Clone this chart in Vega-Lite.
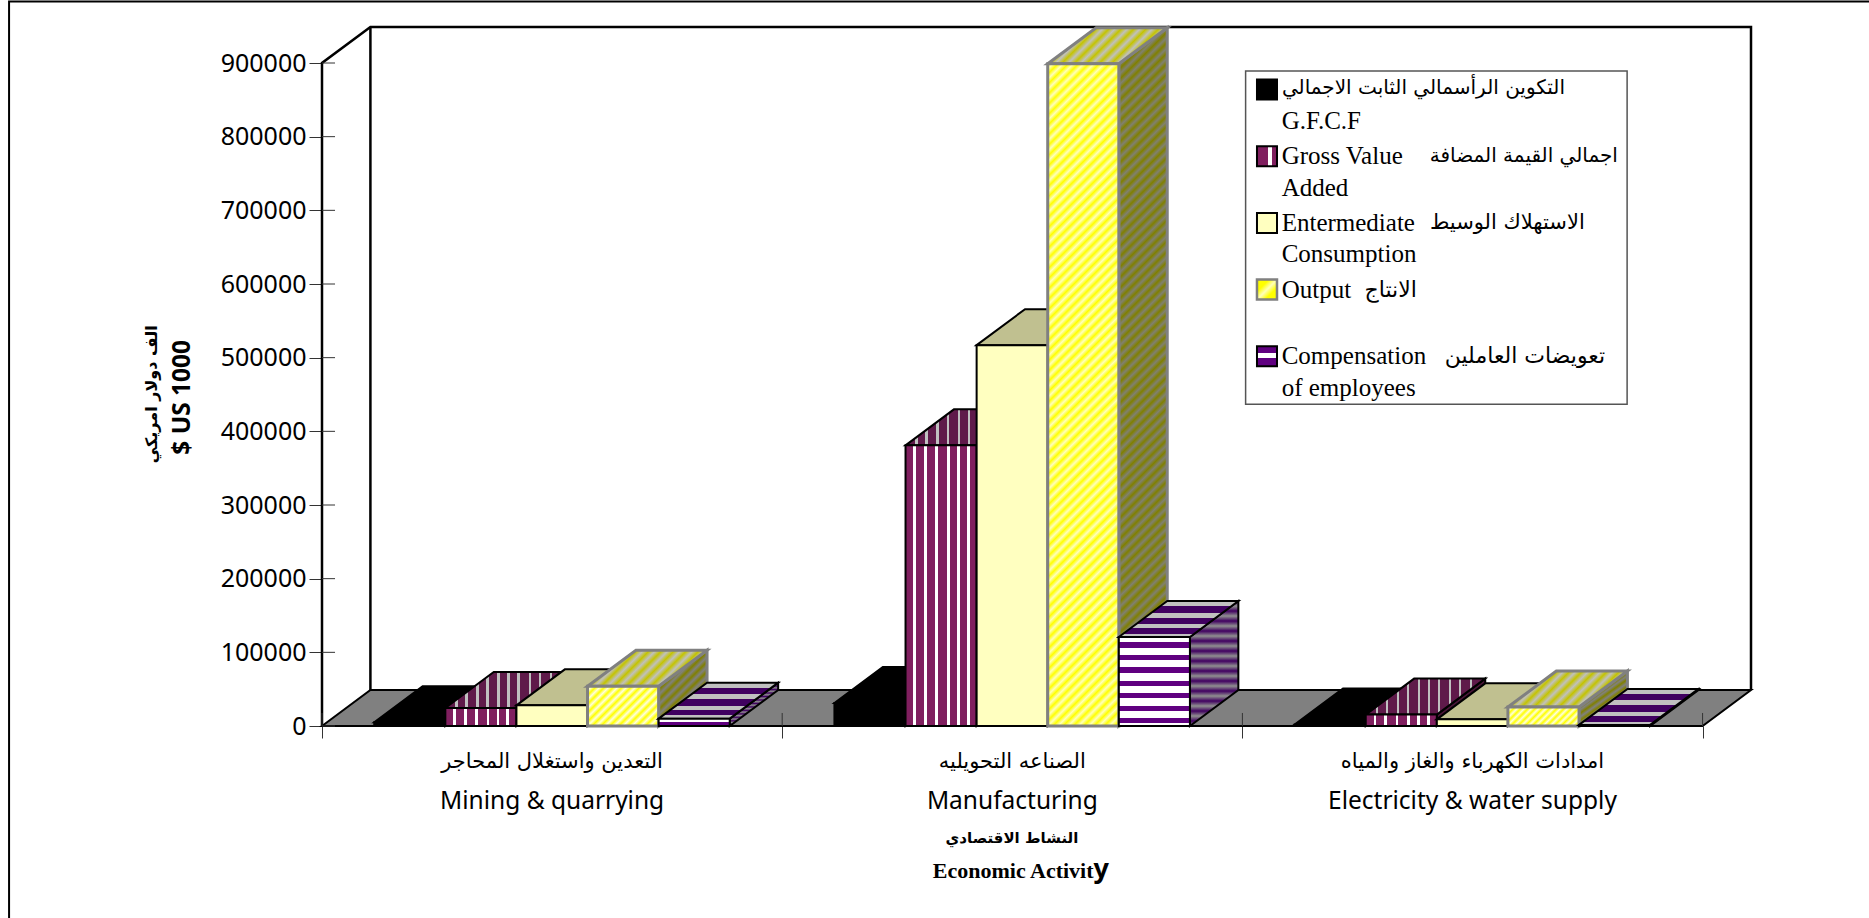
{"$schema":"https://vega.github.io/schema/vega-lite/v6.json","width":1429,"height":699,"padding":{"left":322,"top":27,"right":118,"bottom":192},"autosize":{"type":"none"},"background":"white","config":{"view":{"stroke":null}},
"data":{"values":[{"singleton":1}]},
"datasets":{"bars":[
{"activity":"Mining & quarrying","series":"G.F.C.F","value":5000},{"activity":"Mining & quarrying","series":"Gross Value Added","value":24400},{"activity":"Mining & quarrying","series":"Entermediate Consumption","value":28000},{"activity":"Mining & quarrying","series":"Output","value":53900},{"activity":"Mining & quarrying","series":"Compensation of employees","value":10000},
{"activity":"Manufacturing","series":"G.F.C.F","value":31200},{"activity":"Manufacturing","series":"Gross Value Added","value":381000},{"activity":"Manufacturing","series":"Entermediate Consumption","value":517000},{"activity":"Manufacturing","series":"Output","value":899000},{"activity":"Manufacturing","series":"Compensation of employees","value":120800},
{"activity":"Electricity & water supply","series":"G.F.C.F","value":2000},{"activity":"Electricity & water supply","series":"Gross Value Added","value":15500},{"activity":"Electricity & water supply","series":"Entermediate Consumption","value":9000},{"activity":"Electricity & water supply","series":"Output","value":25800},{"activity":"Electricity & water supply","series":"Compensation of employees","value":1500}],
"floor":[{"x":0,"lo":0,"hi":0},{"x":0.1052,"lo":0,"hi":48870},{"x":3,"lo":0,"hi":48870},{"x":3.1052,"lo":48870,"hi":48870}],
"wall":[{"o":1,"x":0,"y":0},{"o":2,"x":0,"y":900000},{"o":3,"x":0.1052,"y":948870},{"o":4,"x":3.1052,"y":948870},{"o":5,"x":3.1052,"y":48870}],
"labels":[{"activity":"Mining & quarrying","arabic":"التعدين واستغلال المحاجر"},{"activity":"Manufacturing","arabic":"الصناعه التحويليه"},{"activity":"Electricity & water supply","arabic":"امدادات الكهرباء والغاز والمياه"}]},
"layer":[
{"mark":{"type":"rect","fill":null,"stroke":"#000","strokeWidth":2},"encoding":{"x":{"datum":-0.68},"x2":{"datum":3.4},"y":{"datum":983500},"y2":{"datum":-270000}}},
{"data":{"name":"floor"},"mark":{"type":"area","fill":"#808080","stroke":"#000","strokeWidth":2},"encoding":{"x":{"field":"x","type":"quantitative","scale":{"domain":[0,3.1052],"nice":false,"zero":false},"axis":{"values":[0,1,2,3],"labels":false,"title":null,"tickSize":12,"tickColor":"#333","domain":false,"grid":false}},"y":{"field":"hi","type":"quantitative","scale":{"domain":[0,948870],"nice":false},"axis":{"values":[0,100000,200000,300000,400000,500000,600000,700000,800000,900000],"format":"d","title":null,"tickSize":13,"tickColor":"#333","domain":false,"labelFont":"Noto Sans","labelFontSize":25,"labelColor":"#000","labelPadding":3,"grid":false,"labelOverlap":false}},"y2":{"field":"lo"}}},
{"data":{"name":"wall"},"mark":{"type":"line","stroke":"#000","strokeWidth":2.5},"encoding":{"x":{"field":"x","type":"quantitative"},"y":{"field":"y","type":"quantitative"},"order":{"field":"o"}}},
{"mark":{"type":"rule","stroke":"#000","strokeWidth":2.5},"encoding":{"x":{"datum":0.1052},"y":{"datum":48870},"y2":{"datum":948870}}},
{"data":{"values":[{"v":0},{"v":100000},{"v":200000},{"v":300000},{"v":400000},{"v":500000},{"v":600000},{"v":700000},{"v":800000},{"v":900000}]},"mark":{"type":"rule","stroke":"#333","strokeWidth":1},"encoding":{"x":{"datum":0},"x2":{"datum":0.0283},"y":{"field":"v","type":"quantitative"}}},
{"data":{"values":[{"t":0},{"t":1},{"t":2},{"t":3}]},"mark":{"type":"rule","stroke":"#333","strokeWidth":1},"encoding":{"x":{"field":"t","type":"quantitative"},"y":{"datum":0},"y2":{"datum":17650}}},
{"data":{"name":"bars"},"transform":[
{"calculate":"indexof(['Mining & quarrying','Manufacturing','Electricity & water supply'],datum.activity)+0.1135+indexof(['G.F.C.F','Gross Value Added','Entermediate Consumption','Output','Compensation of employees'],datum.series)*0.1545","as":"x0"},
{"calculate":"datum.x0+0.1545","as":"x1"},
{"calculate":"[{f:'side',px:datum.x1,lo:0,hi:datum.value},{f:'side',px:datum.x1+0.1052,lo:48870,hi:datum.value+48870},{f:'top',px:datum.x0,lo:datum.value,hi:datum.value},{f:'top',px:datum.x0+0.1052,lo:datum.value,hi:datum.value+48870},{f:'top',px:datum.x1,lo:datum.value,hi:datum.value+48870},{f:'top',px:datum.x1+0.1052,lo:datum.value+48870,hi:datum.value+48870},{f:'front',px:datum.x0,lo:0,hi:datum.value}]","as":"g"},
{"flatten":["g"]},
{"calculate":"datum.g.f","as":"face"},{"calculate":"datum.g.px","as":"px"},{"calculate":"datum.g.lo","as":"lo"},{"calculate":"datum.g.hi","as":"hi"}],
"layer":[
{"transform":[{"filter":"datum.series=='G.F.C.F'&&datum.face!='front'"}],"mark":{"type":"area","fill":"#000","stroke":"#000","strokeWidth":2},"encoding":{"x":{"field":"px","type":"quantitative"},"y":{"field":"hi","type":"quantitative"},"y2":{"field":"lo"},"detail":[{"field":"activity"},{"field":"face"}]}},
{"transform":[{"filter":"datum.series=='G.F.C.F'&&datum.face=='front'"}],"mark":{"type":"rect","fill":"#000","stroke":"#000","strokeWidth":2},"encoding":{"x":{"field":"px","type":"quantitative"},"x2":{"field":"x1"},"y":{"field":"hi","type":"quantitative"},"y2":{"field":"lo"}}},

{"transform":[{"filter":"datum.series=='Gross Value Added'&&datum.face=='side'"}],"mark":{"type":"area","fill":"#4a1538","stroke":"#000","strokeWidth":2},"encoding":{"x":{"field":"px","type":"quantitative"},"y":{"field":"hi","type":"quantitative"},"y2":{"field":"lo"},"detail":{"field":"activity"}}},
{"transform":[{"filter":"datum.series=='Gross Value Added'&&datum.face=='top'"}],"mark":{"type":"area","stroke":"#000","strokeWidth":2,"fill":{"gradient":"linear","x1":0,"y1":0,"x2":1,"y2":0,"stops":[{"offset":0.082,"color":"#5f1a4a"},{"offset":0.082,"color":"#c0c0c0"},{"offset":0.102,"color":"#c0c0c0"},{"offset":0.102,"color":"#5f1a4a"},{"offset":0.166,"color":"#5f1a4a"},{"offset":0.166,"color":"#c0c0c0"},{"offset":0.186,"color":"#c0c0c0"},{"offset":0.186,"color":"#5f1a4a"},{"offset":0.259,"color":"#5f1a4a"},{"offset":0.259,"color":"#c0c0c0"},{"offset":0.279,"color":"#c0c0c0"},{"offset":0.279,"color":"#5f1a4a"},{"offset":0.343,"color":"#5f1a4a"},{"offset":0.343,"color":"#c0c0c0"},{"offset":0.363,"color":"#c0c0c0"},{"offset":0.363,"color":"#5f1a4a"},{"offset":0.435,"color":"#5f1a4a"},{"offset":0.435,"color":"#c0c0c0"},{"offset":0.455,"color":"#c0c0c0"},{"offset":0.455,"color":"#5f1a4a"},{"offset":0.519,"color":"#5f1a4a"},{"offset":0.519,"color":"#c0c0c0"},{"offset":0.539,"color":"#c0c0c0"},{"offset":0.539,"color":"#5f1a4a"},{"offset":0.603,"color":"#5f1a4a"},{"offset":0.603,"color":"#c0c0c0"},{"offset":0.623,"color":"#c0c0c0"},{"offset":0.623,"color":"#5f1a4a"},{"offset":0.696,"color":"#5f1a4a"},{"offset":0.696,"color":"#c0c0c0"},{"offset":0.716,"color":"#c0c0c0"},{"offset":0.716,"color":"#5f1a4a"},{"offset":0.78,"color":"#5f1a4a"},{"offset":0.78,"color":"#c0c0c0"},{"offset":0.8,"color":"#c0c0c0"},{"offset":0.8,"color":"#5f1a4a"},{"offset":0.872,"color":"#5f1a4a"},{"offset":0.872,"color":"#c0c0c0"},{"offset":0.892,"color":"#c0c0c0"},{"offset":0.892,"color":"#5f1a4a"}]}},"encoding":{"x":{"field":"px","type":"quantitative"},"y":{"field":"hi","type":"quantitative"},"y2":{"field":"lo"},"detail":{"field":"activity"}}},
{"transform":[{"filter":"datum.series=='Gross Value Added'&&datum.face=='front'"}],"mark":{"type":"rect","stroke":"#000","strokeWidth":2,"fill":{"gradient":"linear","x1":0,"y1":0,"x2":1,"y2":0,"stops":[{"offset":0.11,"color":"#801f5f"},{"offset":0.11,"color":"#fff"},{"offset":0.15,"color":"#fff"},{"offset":0.15,"color":"#801f5f"},{"offset":0.26,"color":"#801f5f"},{"offset":0.26,"color":"#fff"},{"offset":0.3,"color":"#fff"},{"offset":0.3,"color":"#801f5f"},{"offset":0.42,"color":"#801f5f"},{"offset":0.42,"color":"#fff"},{"offset":0.46,"color":"#fff"},{"offset":0.46,"color":"#801f5f"},{"offset":0.58,"color":"#801f5f"},{"offset":0.58,"color":"#fff"},{"offset":0.62,"color":"#fff"},{"offset":0.62,"color":"#801f5f"},{"offset":0.72,"color":"#801f5f"},{"offset":0.72,"color":"#fff"},{"offset":0.76,"color":"#fff"},{"offset":0.76,"color":"#801f5f"},{"offset":0.86,"color":"#801f5f"},{"offset":0.86,"color":"#fff"},{"offset":0.9,"color":"#fff"},{"offset":0.9,"color":"#801f5f"}]}},"encoding":{"x":{"field":"px","type":"quantitative"},"x2":{"field":"x1"},"y":{"field":"hi","type":"quantitative"},"y2":{"field":"lo"}}},

{"transform":[{"filter":"datum.series=='Entermediate Consumption'&&datum.face=='side'"}],"mark":{"type":"area","fill":"#808060","stroke":"#000","strokeWidth":2},"encoding":{"x":{"field":"px","type":"quantitative"},"y":{"field":"hi","type":"quantitative"},"y2":{"field":"lo"},"detail":{"field":"activity"}}},
{"transform":[{"filter":"datum.series=='Entermediate Consumption'&&datum.face=='top'"}],"mark":{"type":"area","fill":"#c0c090","stroke":"#000","strokeWidth":2},"encoding":{"x":{"field":"px","type":"quantitative"},"y":{"field":"hi","type":"quantitative"},"y2":{"field":"lo"},"detail":{"field":"activity"}}},
{"transform":[{"filter":"datum.series=='Entermediate Consumption'&&datum.face=='front'"}],"mark":{"type":"rect","fill":"#ffffc0","stroke":"#000","strokeWidth":2},"encoding":{"x":{"field":"px","type":"quantitative"},"x2":{"field":"x1"},"y":{"field":"hi","type":"quantitative"},"y2":{"field":"lo"}}},

{"transform":[{"filter":"datum.series=='Output'&&datum.face=='side'&&datum.activity!='Manufacturing'"}],"mark":{"type":"area","stroke":"#808080","strokeWidth":3,"fill":{"gradient":"linear","x1":0,"y1":0,"x2":0.737,"y2":1.166,"stops":[{"offset":0,"color":"#808000"},{"offset":0.04,"color":"#808080"},{"offset":0.08,"color":"#808000"},{"offset":0.12,"color":"#808080"},{"offset":0.16,"color":"#808000"},{"offset":0.2,"color":"#808080"},{"offset":0.24,"color":"#808000"},{"offset":0.28,"color":"#808080"},{"offset":0.32,"color":"#808000"},{"offset":0.36,"color":"#808080"},{"offset":0.4,"color":"#808000"},{"offset":0.44,"color":"#808080"},{"offset":0.48,"color":"#808000"},{"offset":0.52,"color":"#808080"},{"offset":0.56,"color":"#808000"},{"offset":0.6,"color":"#808080"},{"offset":0.64,"color":"#808000"},{"offset":0.68,"color":"#808080"},{"offset":0.72,"color":"#808000"},{"offset":0.76,"color":"#808080"},{"offset":0.8,"color":"#808000"},{"offset":0.84,"color":"#808080"},{"offset":0.88,"color":"#808000"},{"offset":0.92,"color":"#808080"},{"offset":0.96,"color":"#808000"},{"offset":1,"color":"#808080"}]}},"encoding":{"x":{"field":"px","type":"quantitative"},"y":{"field":"hi","type":"quantitative"},"y2":{"field":"lo"},"detail":{"field":"activity"}}},
{"transform":[{"filter":"datum.series=='Output'&&datum.face=='side'&&datum.activity=='Manufacturing'"}],"mark":{"type":"area","stroke":"#808080","strokeWidth":3,"fill":{"gradient":"linear","x1":0,"y1":0,"x2":0.0732,"y2":1.0637,"stops":[{"offset":0,"color":"#808000"},{"offset":0.007,"color":"#808070"},{"offset":0.014,"color":"#808000"},{"offset":0.021,"color":"#808070"},{"offset":0.028,"color":"#808000"},{"offset":0.035,"color":"#808070"},{"offset":0.042,"color":"#808000"},{"offset":0.049,"color":"#808070"},{"offset":0.056,"color":"#808000"},{"offset":0.063,"color":"#808070"},{"offset":0.07,"color":"#808000"},{"offset":0.077,"color":"#808070"},{"offset":0.084,"color":"#808000"},{"offset":0.091,"color":"#808070"},{"offset":0.098,"color":"#808000"},{"offset":0.105,"color":"#808070"},{"offset":0.112,"color":"#808000"},{"offset":0.119,"color":"#808070"},{"offset":0.126,"color":"#808000"},{"offset":0.133,"color":"#808070"},{"offset":0.14,"color":"#808000"},{"offset":0.147,"color":"#808070"},{"offset":0.154,"color":"#808000"},{"offset":0.161,"color":"#808070"},{"offset":0.168,"color":"#808000"},{"offset":0.175,"color":"#808070"},{"offset":0.182,"color":"#808000"},{"offset":0.189,"color":"#808070"},{"offset":0.196,"color":"#808000"},{"offset":0.203,"color":"#808070"},{"offset":0.21,"color":"#808000"},{"offset":0.217,"color":"#808070"},{"offset":0.224,"color":"#808000"},{"offset":0.231,"color":"#808070"},{"offset":0.238,"color":"#808000"},{"offset":0.245,"color":"#808070"},{"offset":0.252,"color":"#808000"},{"offset":0.259,"color":"#808070"},{"offset":0.266,"color":"#808000"},{"offset":0.273,"color":"#808070"},{"offset":0.28,"color":"#808000"},{"offset":0.287,"color":"#808070"},{"offset":0.294,"color":"#808000"},{"offset":0.301,"color":"#808070"},{"offset":0.308,"color":"#808000"},{"offset":0.315,"color":"#808070"},{"offset":0.322,"color":"#808000"},{"offset":0.329,"color":"#808070"},{"offset":0.336,"color":"#808000"},{"offset":0.343,"color":"#808070"},{"offset":0.35,"color":"#808000"},{"offset":0.357,"color":"#808070"},{"offset":0.364,"color":"#808000"},{"offset":0.371,"color":"#808070"},{"offset":0.378,"color":"#808000"},{"offset":0.385,"color":"#808070"},{"offset":0.392,"color":"#808000"},{"offset":0.399,"color":"#808070"},{"offset":0.406,"color":"#808000"},{"offset":0.413,"color":"#808070"},{"offset":0.42,"color":"#808000"},{"offset":0.427,"color":"#808070"},{"offset":0.434,"color":"#808000"},{"offset":0.441,"color":"#808070"},{"offset":0.448,"color":"#808000"},{"offset":0.455,"color":"#808070"},{"offset":0.462,"color":"#808000"},{"offset":0.469,"color":"#808070"},{"offset":0.476,"color":"#808000"},{"offset":0.483,"color":"#808070"},{"offset":0.49,"color":"#808000"},{"offset":0.497,"color":"#808070"},{"offset":0.504,"color":"#808000"},{"offset":0.511,"color":"#808070"},{"offset":0.518,"color":"#808000"},{"offset":0.525,"color":"#808070"},{"offset":0.532,"color":"#808000"},{"offset":0.539,"color":"#808070"},{"offset":0.546,"color":"#808000"},{"offset":0.553,"color":"#808070"},{"offset":0.56,"color":"#808000"},{"offset":0.567,"color":"#808070"},{"offset":0.574,"color":"#808000"},{"offset":0.581,"color":"#808070"},{"offset":0.588,"color":"#808000"},{"offset":0.595,"color":"#808070"},{"offset":0.602,"color":"#808000"},{"offset":0.609,"color":"#808070"},{"offset":0.616,"color":"#808000"},{"offset":0.623,"color":"#808070"},{"offset":0.63,"color":"#808000"},{"offset":0.637,"color":"#808070"},{"offset":0.644,"color":"#808000"},{"offset":0.651,"color":"#808070"},{"offset":0.658,"color":"#808000"},{"offset":0.665,"color":"#808070"},{"offset":0.672,"color":"#808000"},{"offset":0.679,"color":"#808070"},{"offset":0.686,"color":"#808000"},{"offset":0.693,"color":"#808070"},{"offset":0.7,"color":"#808000"},{"offset":0.707,"color":"#808070"},{"offset":0.714,"color":"#808000"},{"offset":0.721,"color":"#808070"},{"offset":0.728,"color":"#808000"},{"offset":0.735,"color":"#808070"},{"offset":0.742,"color":"#808000"},{"offset":0.749,"color":"#808070"},{"offset":0.756,"color":"#808000"},{"offset":0.763,"color":"#808070"},{"offset":0.77,"color":"#808000"},{"offset":0.777,"color":"#808070"},{"offset":0.784,"color":"#808000"},{"offset":0.791,"color":"#808070"},{"offset":0.798,"color":"#808000"},{"offset":0.805,"color":"#808070"},{"offset":0.812,"color":"#808000"},{"offset":0.819,"color":"#808070"},{"offset":0.826,"color":"#808000"},{"offset":0.833,"color":"#808070"},{"offset":0.84,"color":"#808000"},{"offset":0.847,"color":"#808070"},{"offset":0.854,"color":"#808000"},{"offset":0.861,"color":"#808070"},{"offset":0.868,"color":"#808000"},{"offset":0.875,"color":"#808070"},{"offset":0.882,"color":"#808000"},{"offset":0.889,"color":"#808070"},{"offset":0.896,"color":"#808000"},{"offset":0.903,"color":"#808070"},{"offset":0.91,"color":"#808000"},{"offset":0.917,"color":"#808070"},{"offset":0.924,"color":"#808000"},{"offset":0.931,"color":"#808070"},{"offset":0.938,"color":"#808000"},{"offset":0.945,"color":"#808070"},{"offset":0.952,"color":"#808000"},{"offset":0.959,"color":"#808070"},{"offset":0.966,"color":"#808000"},{"offset":0.973,"color":"#808070"},{"offset":0.98,"color":"#808000"},{"offset":0.987,"color":"#808070"},{"offset":0.994,"color":"#808000"}]}},"encoding":{"x":{"field":"px","type":"quantitative"},"y":{"field":"hi","type":"quantitative"},"y2":{"field":"lo"},"detail":{"field":"activity"}}},
{"transform":[{"filter":"datum.series=='Output'&&datum.face=='top'"}],"mark":{"type":"area","stroke":"#808080","strokeWidth":3,"fill":{"gradient":"linear","x1":0,"y1":0,"x2":1.193,"y2":0.36,"stops":[{"offset":0,"color":"#c4c400"},{"offset":0.04,"color":"#c0c0c0"},{"offset":0.08,"color":"#c4c400"},{"offset":0.12,"color":"#c0c0c0"},{"offset":0.16,"color":"#c4c400"},{"offset":0.2,"color":"#c0c0c0"},{"offset":0.24,"color":"#c4c400"},{"offset":0.28,"color":"#c0c0c0"},{"offset":0.32,"color":"#c4c400"},{"offset":0.36,"color":"#c0c0c0"},{"offset":0.4,"color":"#c4c400"},{"offset":0.44,"color":"#c0c0c0"},{"offset":0.48,"color":"#c4c400"},{"offset":0.52,"color":"#c0c0c0"},{"offset":0.56,"color":"#c4c400"},{"offset":0.6,"color":"#c0c0c0"},{"offset":0.64,"color":"#c4c400"},{"offset":0.68,"color":"#c0c0c0"},{"offset":0.72,"color":"#c4c400"},{"offset":0.76,"color":"#c0c0c0"},{"offset":0.8,"color":"#c4c400"},{"offset":0.84,"color":"#c0c0c0"},{"offset":0.88,"color":"#c4c400"},{"offset":0.92,"color":"#c0c0c0"},{"offset":0.96,"color":"#c4c400"},{"offset":1,"color":"#c0c0c0"}]}},"encoding":{"x":{"field":"px","type":"quantitative"},"y":{"field":"hi","type":"quantitative"},"y2":{"field":"lo"},"detail":{"field":"activity"}}},
{"transform":[{"filter":"datum.series=='Output'&&datum.face=='front'&&datum.activity=='Mining & quarrying'"}],"mark":{"type":"rect","stroke":"#808080","strokeWidth":3,"fill":{"gradient":"linear","x1":0,"y1":0,"x2":1.187,"y2":0.669,"stops":[{"offset":0,"color":"#ff0"},{"offset":0.04,"color":"#ffd"},{"offset":0.08,"color":"#ff0"},{"offset":0.12,"color":"#ffd"},{"offset":0.16,"color":"#ff0"},{"offset":0.2,"color":"#ffd"},{"offset":0.24,"color":"#ff0"},{"offset":0.28,"color":"#ffd"},{"offset":0.32,"color":"#ff0"},{"offset":0.36,"color":"#ffd"},{"offset":0.4,"color":"#ff0"},{"offset":0.44,"color":"#ffd"},{"offset":0.48,"color":"#ff0"},{"offset":0.52,"color":"#ffd"},{"offset":0.56,"color":"#ff0"},{"offset":0.6,"color":"#ffd"},{"offset":0.64,"color":"#ff0"},{"offset":0.68,"color":"#ffd"},{"offset":0.72,"color":"#ff0"},{"offset":0.76,"color":"#ffd"},{"offset":0.8,"color":"#ff0"},{"offset":0.84,"color":"#ffd"},{"offset":0.88,"color":"#ff0"},{"offset":0.92,"color":"#ffd"},{"offset":0.96,"color":"#ff0"},{"offset":1,"color":"#ffd"}]}},"encoding":{"x":{"field":"px","type":"quantitative"},"x2":{"field":"x1"},"y":{"field":"hi","type":"quantitative"},"y2":{"field":"lo"}}},
{"transform":[{"filter":"datum.series=='Output'&&datum.face=='front'&&datum.activity=='Electricity & water supply'"}],"mark":{"type":"rect","stroke":"#808080","strokeWidth":3,"fill":{"gradient":"linear","x1":0,"y1":0,"x2":1.183,"y2":0.3166,"stops":[{"offset":0,"color":"#ff0"},{"offset":0.04,"color":"#ffd"},{"offset":0.08,"color":"#ff0"},{"offset":0.12,"color":"#ffd"},{"offset":0.16,"color":"#ff0"},{"offset":0.2,"color":"#ffd"},{"offset":0.24,"color":"#ff0"},{"offset":0.28,"color":"#ffd"},{"offset":0.32,"color":"#ff0"},{"offset":0.36,"color":"#ffd"},{"offset":0.4,"color":"#ff0"},{"offset":0.44,"color":"#ffd"},{"offset":0.48,"color":"#ff0"},{"offset":0.52,"color":"#ffd"},{"offset":0.56,"color":"#ff0"},{"offset":0.6,"color":"#ffd"},{"offset":0.64,"color":"#ff0"},{"offset":0.68,"color":"#ffd"},{"offset":0.72,"color":"#ff0"},{"offset":0.76,"color":"#ffd"},{"offset":0.8,"color":"#ff0"},{"offset":0.84,"color":"#ffd"},{"offset":0.88,"color":"#ff0"},{"offset":0.92,"color":"#ffd"},{"offset":0.96,"color":"#ff0"},{"offset":1,"color":"#ffd"}]}},"encoding":{"x":{"field":"px","type":"quantitative"},"x2":{"field":"x1"},"y":{"field":"hi","type":"quantitative"},"y2":{"field":"lo"}}},
{"transform":[{"filter":"datum.series=='Output'&&datum.face=='front'&&datum.activity=='Manufacturing'"}],"mark":{"type":"rect","stroke":"#808080","strokeWidth":3,"fill":{"gradient":"linear","x1":0,"y1":0,"x2":0.1174,"y2":1.0947,"stops":[{"offset":0,"color":"#ff0"},{"offset":0.007,"color":"#ffb"},{"offset":0.014,"color":"#ff0"},{"offset":0.021,"color":"#ffb"},{"offset":0.028,"color":"#ff0"},{"offset":0.035,"color":"#ffb"},{"offset":0.042,"color":"#ff0"},{"offset":0.049,"color":"#ffb"},{"offset":0.056,"color":"#ff0"},{"offset":0.063,"color":"#ffb"},{"offset":0.07,"color":"#ff0"},{"offset":0.077,"color":"#ffb"},{"offset":0.084,"color":"#ff0"},{"offset":0.091,"color":"#ffb"},{"offset":0.098,"color":"#ff0"},{"offset":0.105,"color":"#ffb"},{"offset":0.112,"color":"#ff0"},{"offset":0.119,"color":"#ffb"},{"offset":0.126,"color":"#ff0"},{"offset":0.133,"color":"#ffb"},{"offset":0.14,"color":"#ff0"},{"offset":0.147,"color":"#ffb"},{"offset":0.154,"color":"#ff0"},{"offset":0.161,"color":"#ffb"},{"offset":0.168,"color":"#ff0"},{"offset":0.175,"color":"#ffb"},{"offset":0.182,"color":"#ff0"},{"offset":0.189,"color":"#ffb"},{"offset":0.196,"color":"#ff0"},{"offset":0.203,"color":"#ffb"},{"offset":0.21,"color":"#ff0"},{"offset":0.217,"color":"#ffb"},{"offset":0.224,"color":"#ff0"},{"offset":0.231,"color":"#ffb"},{"offset":0.238,"color":"#ff0"},{"offset":0.245,"color":"#ffb"},{"offset":0.252,"color":"#ff0"},{"offset":0.259,"color":"#ffb"},{"offset":0.266,"color":"#ff0"},{"offset":0.273,"color":"#ffb"},{"offset":0.28,"color":"#ff0"},{"offset":0.287,"color":"#ffb"},{"offset":0.294,"color":"#ff0"},{"offset":0.301,"color":"#ffb"},{"offset":0.308,"color":"#ff0"},{"offset":0.315,"color":"#ffb"},{"offset":0.322,"color":"#ff0"},{"offset":0.329,"color":"#ffb"},{"offset":0.336,"color":"#ff0"},{"offset":0.343,"color":"#ffb"},{"offset":0.35,"color":"#ff0"},{"offset":0.357,"color":"#ffb"},{"offset":0.364,"color":"#ff0"},{"offset":0.371,"color":"#ffb"},{"offset":0.378,"color":"#ff0"},{"offset":0.385,"color":"#ffb"},{"offset":0.392,"color":"#ff0"},{"offset":0.399,"color":"#ffb"},{"offset":0.406,"color":"#ff0"},{"offset":0.413,"color":"#ffb"},{"offset":0.42,"color":"#ff0"},{"offset":0.427,"color":"#ffb"},{"offset":0.434,"color":"#ff0"},{"offset":0.441,"color":"#ffb"},{"offset":0.448,"color":"#ff0"},{"offset":0.455,"color":"#ffb"},{"offset":0.462,"color":"#ff0"},{"offset":0.469,"color":"#ffb"},{"offset":0.476,"color":"#ff0"},{"offset":0.483,"color":"#ffb"},{"offset":0.49,"color":"#ff0"},{"offset":0.497,"color":"#ffb"},{"offset":0.504,"color":"#ff0"},{"offset":0.511,"color":"#ffb"},{"offset":0.518,"color":"#ff0"},{"offset":0.525,"color":"#ffb"},{"offset":0.532,"color":"#ff0"},{"offset":0.539,"color":"#ffb"},{"offset":0.546,"color":"#ff0"},{"offset":0.553,"color":"#ffb"},{"offset":0.56,"color":"#ff0"},{"offset":0.567,"color":"#ffb"},{"offset":0.574,"color":"#ff0"},{"offset":0.581,"color":"#ffb"},{"offset":0.588,"color":"#ff0"},{"offset":0.595,"color":"#ffb"},{"offset":0.602,"color":"#ff0"},{"offset":0.609,"color":"#ffb"},{"offset":0.616,"color":"#ff0"},{"offset":0.623,"color":"#ffb"},{"offset":0.63,"color":"#ff0"},{"offset":0.637,"color":"#ffb"},{"offset":0.644,"color":"#ff0"},{"offset":0.651,"color":"#ffb"},{"offset":0.658,"color":"#ff0"},{"offset":0.665,"color":"#ffb"},{"offset":0.672,"color":"#ff0"},{"offset":0.679,"color":"#ffb"},{"offset":0.686,"color":"#ff0"},{"offset":0.693,"color":"#ffb"},{"offset":0.7,"color":"#ff0"},{"offset":0.707,"color":"#ffb"},{"offset":0.714,"color":"#ff0"},{"offset":0.721,"color":"#ffb"},{"offset":0.728,"color":"#ff0"},{"offset":0.735,"color":"#ffb"},{"offset":0.742,"color":"#ff0"},{"offset":0.749,"color":"#ffb"},{"offset":0.756,"color":"#ff0"},{"offset":0.763,"color":"#ffb"},{"offset":0.77,"color":"#ff0"},{"offset":0.777,"color":"#ffb"},{"offset":0.784,"color":"#ff0"},{"offset":0.791,"color":"#ffb"},{"offset":0.798,"color":"#ff0"},{"offset":0.805,"color":"#ffb"},{"offset":0.812,"color":"#ff0"},{"offset":0.819,"color":"#ffb"},{"offset":0.826,"color":"#ff0"},{"offset":0.833,"color":"#ffb"},{"offset":0.84,"color":"#ff0"},{"offset":0.847,"color":"#ffb"},{"offset":0.854,"color":"#ff0"},{"offset":0.861,"color":"#ffb"},{"offset":0.868,"color":"#ff0"},{"offset":0.875,"color":"#ffb"},{"offset":0.882,"color":"#ff0"},{"offset":0.889,"color":"#ffb"},{"offset":0.896,"color":"#ff0"},{"offset":0.903,"color":"#ffb"},{"offset":0.91,"color":"#ff0"},{"offset":0.917,"color":"#ffb"},{"offset":0.924,"color":"#ff0"},{"offset":0.931,"color":"#ffb"},{"offset":0.938,"color":"#ff0"},{"offset":0.945,"color":"#ffb"},{"offset":0.952,"color":"#ff0"},{"offset":0.959,"color":"#ffb"},{"offset":0.966,"color":"#ff0"},{"offset":0.973,"color":"#ffb"},{"offset":0.98,"color":"#ff0"},{"offset":0.987,"color":"#ffb"},{"offset":0.994,"color":"#ff0"}]}},"encoding":{"x":{"field":"px","type":"quantitative"},"x2":{"field":"x1"},"y":{"field":"hi","type":"quantitative"},"y2":{"field":"lo"}}},

{"transform":[{"filter":"datum.series=='Compensation of employees'&&datum.face=='side'"}],"mark":{"type":"area","stroke":"#000","strokeWidth":2,"fill":{"gradient":"linear","x1":0,"y1":0,"x2":0,"y2":1,"stops":[{"offset":0,"color":"#400060"},{"offset":0.04,"color":"#909090"},{"offset":0.08,"color":"#400060"},{"offset":0.12,"color":"#909090"},{"offset":0.16,"color":"#400060"},{"offset":0.2,"color":"#909090"},{"offset":0.24,"color":"#400060"},{"offset":0.28,"color":"#909090"},{"offset":0.32,"color":"#400060"},{"offset":0.36,"color":"#909090"},{"offset":0.4,"color":"#400060"},{"offset":0.44,"color":"#909090"},{"offset":0.48,"color":"#400060"},{"offset":0.52,"color":"#909090"},{"offset":0.56,"color":"#400060"},{"offset":0.6,"color":"#909090"},{"offset":0.64,"color":"#400060"},{"offset":0.68,"color":"#909090"},{"offset":0.72,"color":"#400060"},{"offset":0.76,"color":"#909090"},{"offset":0.8,"color":"#400060"},{"offset":0.84,"color":"#909090"},{"offset":0.88,"color":"#400060"},{"offset":0.92,"color":"#909090"},{"offset":0.96,"color":"#400060"},{"offset":1,"color":"#909090"}]}},"encoding":{"x":{"field":"px","type":"quantitative"},"y":{"field":"hi","type":"quantitative"},"y2":{"field":"lo"},"detail":{"field":"activity"}}},
{"transform":[{"filter":"datum.series=='Compensation of employees'&&datum.face=='top'"}],"mark":{"type":"area","stroke":"#000","strokeWidth":2,"fill":{"gradient":"linear","x1":0,"y1":0,"x2":0,"y2":1,"stops":[{"offset":0.14,"color":"#c0c0c0"},{"offset":0.14,"color":"#400060"},{"offset":0.32,"color":"#400060"},{"offset":0.32,"color":"#c0c0c0"},{"offset":0.46,"color":"#c0c0c0"},{"offset":0.46,"color":"#400060"},{"offset":0.65,"color":"#400060"},{"offset":0.65,"color":"#c0c0c0"},{"offset":0.75,"color":"#c0c0c0"},{"offset":0.75,"color":"#400060"},{"offset":0.91,"color":"#400060"},{"offset":0.91,"color":"#c0c0c0"}]}},"encoding":{"x":{"field":"px","type":"quantitative"},"y":{"field":"hi","type":"quantitative"},"y2":{"field":"lo"},"detail":{"field":"activity"}}},
{"transform":[{"filter":"datum.series=='Compensation of employees'&&datum.face=='front'&&datum.activity=='Manufacturing'"}],"mark":{"type":"rect","stroke":"#000","strokeWidth":2,"fill":{"gradient":"linear","x1":0,"y1":0,"x2":0,"y2":1,"stops":[{"offset":0.06,"color":"#fff"},{"offset":0.06,"color":"#600080"},{"offset":0.12,"color":"#600080"},{"offset":0.12,"color":"#fff"},{"offset":0.2,"color":"#fff"},{"offset":0.2,"color":"#600080"},{"offset":0.26,"color":"#600080"},{"offset":0.26,"color":"#fff"},{"offset":0.34,"color":"#fff"},{"offset":0.34,"color":"#600080"},{"offset":0.4,"color":"#600080"},{"offset":0.4,"color":"#fff"},{"offset":0.49,"color":"#fff"},{"offset":0.49,"color":"#600080"},{"offset":0.55,"color":"#600080"},{"offset":0.55,"color":"#fff"},{"offset":0.63,"color":"#fff"},{"offset":0.63,"color":"#600080"},{"offset":0.69,"color":"#600080"},{"offset":0.69,"color":"#fff"},{"offset":0.77,"color":"#fff"},{"offset":0.77,"color":"#600080"},{"offset":0.83,"color":"#600080"},{"offset":0.83,"color":"#fff"},{"offset":0.91,"color":"#fff"},{"offset":0.91,"color":"#600080"},{"offset":0.97,"color":"#600080"},{"offset":0.97,"color":"#fff"}]}},"encoding":{"x":{"field":"px","type":"quantitative"},"x2":{"field":"x1"},"y":{"field":"hi","type":"quantitative"},"y2":{"field":"lo"}}},
{"transform":[{"filter":"datum.series=='Compensation of employees'&&datum.face=='front'&&datum.activity!='Manufacturing'"}],"mark":{"type":"rect","stroke":"#000","strokeWidth":2,"fill":{"gradient":"linear","x1":0,"y1":0,"x2":0,"y2":1,"stops":[{"offset":0.5,"color":"#fff"},{"offset":0.5,"color":"#600080"}]}},"encoding":{"x":{"field":"px","type":"quantitative"},"x2":{"field":"x1"},"y":{"field":"hi","type":"quantitative"},"y2":{"field":"lo"}}}
]},
{"data":{"name":"labels"},"transform":[{"calculate":"indexof(['Mining & quarrying','Manufacturing','Electricity & water supply'],datum.activity)+0.5","as":"c"}],"mark":{"type":"text","font":"DejaVu Sans","fontSize":21,"color":"#000"},"encoding":{"x":{"field":"c","type":"quantitative"},"y":{"datum":-49000},"text":{"field":"arabic"}}},
{"data":{"name":"labels"},"transform":[{"calculate":"indexof(['Mining & quarrying','Manufacturing','Electricity & water supply'],datum.activity)+0.5","as":"c"}],"mark":{"type":"text","font":"Noto Sans","fontSize":24.5,"color":"#000"},"encoding":{"x":{"field":"c","type":"quantitative"},"y":{"datum":-103500},"text":{"field":"activity"}}},
{"mark":{"type":"text","text":"النشاط الاقتصادي","font":"DejaVu Sans","fontWeight":"bold","fontSize":15},"encoding":{"x":{"datum":1.4993},"y":{"datum":-152000}}},
{"mark":{"type":"text","text":"Economic Activit","font":"Liberation Serif","fontWeight":"bold","fontSize":22,"align":"right","baseline":"alphabetic"},"encoding":{"x":{"datum":1.6766},"y":{"datum":-206300}}},
{"mark":{"type":"text","text":"y","font":"Noto Sans","fontWeight":"bold","fontSize":27,"align":"left","baseline":"alphabetic"},"encoding":{"x":{"datum":1.6766},"y":{"datum":-206300}}},
{"mark":{"type":"text","text":"الف دولار امريكي","font":"DejaVu Sans","fontWeight":"bold","fontSize":16,"angle":270},"encoding":{"x":{"datum":-0.37},"y":{"datum":450300}}},
{"mark":{"type":"text","text":"$ US 1000","font":"Noto Sans","fontWeight":"bold","fontSize":24.5,"angle":270},"encoding":{"x":{"datum":-0.302},"y":{"datum":446200}}},
{"mark":{"type":"rect","fill":"#fff","stroke":"#555","strokeWidth":1.5},"encoding":{"x":{"datum":2.007},"x2":{"datum":2.836},"y":{"datum":889160},"y2":{"datum":436700}}},
{"mark":{"type":"rect","fill":"#000","stroke":"#000","strokeWidth":2},"encoding":{"x":{"datum":2.0317},"x2":{"datum":2.0752},"y":{"datum":877490},"y2":{"datum":850340}}},
{"mark":{"type":"rect","stroke":"#000","strokeWidth":2,"fill":{"gradient":"linear","x1":0,"y1":0,"x2":1,"y2":0,"stops":[{"offset":0.55,"color":"#801f5f"},{"offset":0.55,"color":"#fff"},{"offset":0.75,"color":"#fff"},{"offset":0.75,"color":"#801f5f"}]}},"encoding":{"x":{"datum":2.0317},"x2":{"datum":2.0752},"y":{"datum":786950},"y2":{"datum":759800}}},
{"mark":{"type":"rect","fill":"#ffffc0","stroke":"#000","strokeWidth":2},"encoding":{"x":{"datum":2.0317},"x2":{"datum":2.0752},"y":{"datum":696400},"y2":{"datum":669260}}},
{"mark":{"type":"rect","stroke":"#808080","strokeWidth":2.5,"fill":{"gradient":"linear","x1":0,"y1":0,"x2":1,"y2":1,"stops":[{"offset":0.3,"color":"#ff0"},{"offset":0.5,"color":"#ffb"},{"offset":0.7,"color":"#ff0"}]}},"encoding":{"x":{"datum":2.0317},"x2":{"datum":2.0752},"y":{"datum":606000},"y2":{"datum":578840}}},
{"mark":{"type":"rect","stroke":"#000","strokeWidth":2,"fill":{"gradient":"linear","x1":0,"y1":0,"x2":0,"y2":1,"stops":[{"offset":0.35,"color":"#600080"},{"offset":0.35,"color":"#fff"},{"offset":0.6,"color":"#fff"},{"offset":0.6,"color":"#600080"}]}},"encoding":{"x":{"datum":2.0317},"x2":{"datum":2.0752},"y":{"datum":515450},"y2":{"datum":488300}}},
{"mark":{"type":"text","text":"التكوين الرأسمالي الثابت الاجمالي","font":"DejaVu Sans","fontSize":20,"align":"right"},"encoding":{"x":{"datum":2.701},"y":{"datum":865680}}},
{"mark":{"type":"text","text":"G.F.C.F","font":"Liberation Serif","fontSize":25,"align":"left"},"encoding":{"x":{"datum":2.0854},"y":{"datum":821290}}},
{"mark":{"type":"text","text":"Gross Value","font":"Liberation Serif","fontSize":25,"align":"left"},"encoding":{"x":{"datum":2.0854},"y":{"datum":773370}}},
{"mark":{"type":"text","text":"اجمالي القيمة المضافة","font":"DejaVu Sans","fontSize":20,"align":"right"},"encoding":{"x":{"datum":2.816},"y":{"datum":773370}}},
{"mark":{"type":"text","text":"Added","font":"Liberation Serif","fontSize":25,"align":"left"},"encoding":{"x":{"datum":2.0854},"y":{"datum":730880}}},
{"mark":{"type":"text","text":"Entermediate","font":"Liberation Serif","fontSize":25,"align":"left"},"encoding":{"x":{"datum":2.0854},"y":{"datum":682820}}},
{"mark":{"type":"text","text":"الاستهلاك الوسيط","font":"DejaVu Sans","fontSize":21,"align":"right"},"encoding":{"x":{"datum":2.744},"y":{"datum":682820}}},
{"mark":{"type":"text","text":"Consumption","font":"Liberation Serif","fontSize":25,"align":"left"},"encoding":{"x":{"datum":2.0854},"y":{"datum":640330}}},
{"mark":{"type":"text","text":"Output","font":"Liberation Serif","fontSize":25,"align":"left"},"encoding":{"x":{"datum":2.0854},"y":{"datum":592410}}},
{"mark":{"type":"text","text":"الانتاج","font":"DejaVu Sans","fontSize":22,"align":"right"},"encoding":{"x":{"datum":2.379},"y":{"datum":592410}}},
{"mark":{"type":"text","text":"Compensation","font":"Liberation Serif","fontSize":25,"align":"left"},"encoding":{"x":{"datum":2.0854},"y":{"datum":501870}}},
{"mark":{"type":"text","text":"تعويضات العاملين","font":"DejaVu Sans","fontSize":22,"align":"right"},"encoding":{"x":{"datum":2.788},"y":{"datum":501870}}},
{"mark":{"type":"text","text":"of employees","font":"Liberation Serif","fontSize":25,"align":"left"},"encoding":{"x":{"datum":2.0854},"y":{"datum":459380}}}
]}
